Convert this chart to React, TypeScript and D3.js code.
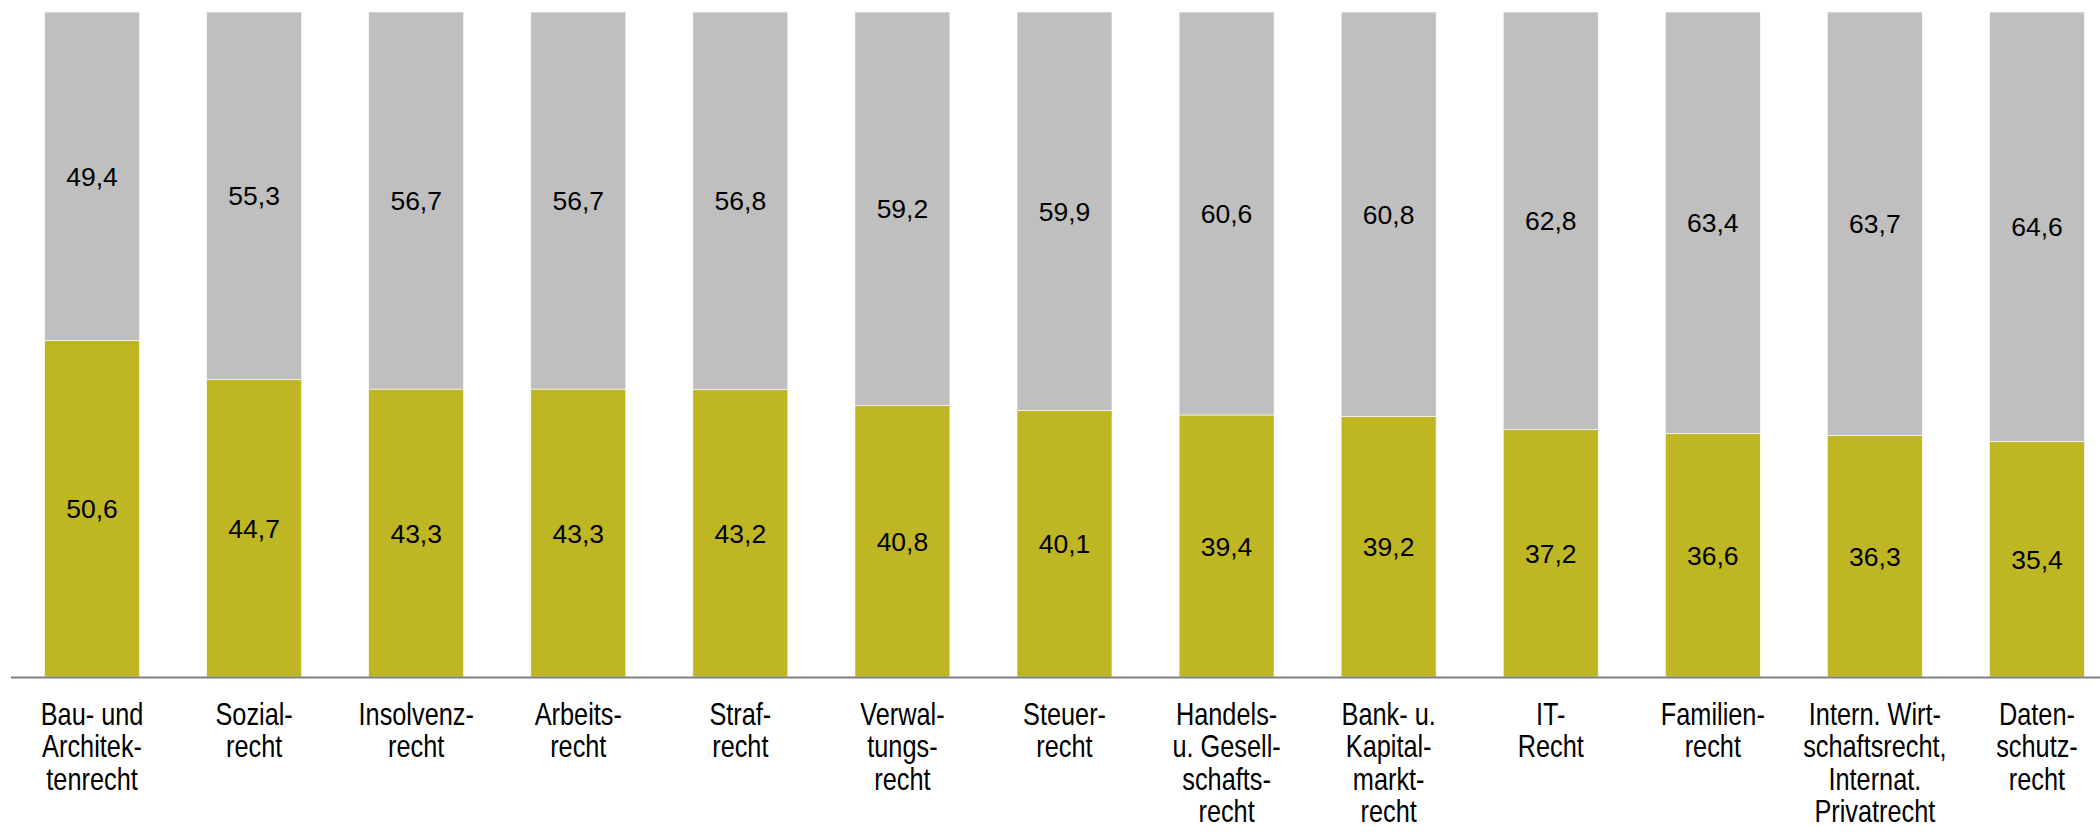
import { useEffect } from 'react';
import * as d3 from 'd3';

const categories: string[][] = [
  ['Bau- und', 'Architek-', 'tenrecht'],
  ['Sozial-', 'recht'],
  ['Insolvenz-', 'recht'],
  ['Arbeits-', 'recht'],
  ['Straf-', 'recht'],
  ['Verwal-', 'tungs-', 'recht'],
  ['Steuer-', 'recht'],
  ['Handels-', 'u. Gesell-', 'schafts-', 'recht'],
  ['Bank- u.', 'Kapital-', 'markt-', 'recht'],
  ['IT-', 'Recht'],
  ['Familien-', 'recht'],
  ['Intern. Wirt-', 'schaftsrecht,', 'Internat.', 'Privatrecht'],
  ['Daten-', 'schutz-', 'recht'],
];

const greenValues = [50.6, 44.7, 43.3, 43.3, 43.2, 40.8, 40.1, 39.4, 39.2, 37.2, 36.6, 36.3, 35.4];
const grayValues = [49.4, 55.3, 56.7, 56.7, 56.8, 59.2, 59.9, 60.6, 60.8, 62.8, 63.4, 63.7, 64.6];

const W = 2100;
const H = 835;
const GREEN = '#BEB723';
const GRAY = '#BFBFBF';

const fmt = (v: number) => v.toFixed(1).replace('.', ',');

export default function App() {
  useEffect(() => {
    document.body.style.margin = '0';
  }, []);

  const keys = categories.map((_, i) => String(i));
  const x = d3.scaleBand<string>()
    .domain(keys)
    .range([11, 2118])
    .paddingInner(0.414)
    .paddingOuter(0.207);
  const y = d3.scaleLinear().domain([0, 100]).range([677, 12]);

  const rows = keys.map((k, i) => ({ key: k, green: greenValues[i], gray: grayValues[i] }));
  const stack = d3.stack<any>().keys(['green', 'gray'])(rows);
  const colors: Record<string, string> = { green: GREEN, gray: GRAY };

  const font = '"Liberation Sans", Arial, sans-serif';

  return (
    <svg width={W} height={H} style={{ display: 'block', background: '#fff' }}>
      {stack.map((layer) => (
        <g key={layer.key}>
          {layer.map((d, i) => {
            const x0 = x(keys[i]) as number;
            const y0 = y(d[1]);
            const y1 = y(d[0]);
            return (
              <g key={i}>
                <rect
                  x={x0}
                  y={y0}
                  width={x.bandwidth()}
                  height={y1 - y0}
                  fill={colors[layer.key]}
                  stroke="#ffffff"
                  strokeWidth={0.6}
                />
                <text
                  x={x0 + x.bandwidth() / 2}
                  y={(y0 + y1) / 2}
                  dy="0.36em"
                  textAnchor="middle"
                  fontFamily={font}
                  fontSize={26.5}
                  fill="#000"
                >
                  {fmt(d[1] - d[0])}
                </text>
              </g>
            );
          })}
        </g>
      ))}
      <line x1={11} x2={W} y1={y(0) + 0.5} y2={y(0) + 0.5} stroke="#808080" strokeWidth={2} />
      {/* narrow labels: Arial scaled horizontally, like Arial Narrow */}
      {categories.map((lines, i) => (
        <g
          key={i}
          transform={`translate(${(x(keys[i]) as number) + x.bandwidth() / 2},725) scale(0.83,1)`}
        >
          <text textAnchor="middle" fontFamily={font} fontSize={30.5} fill="#000">
            {lines.map((l, j) => (
              <tspan key={j} x={0} dy={j === 0 ? 0 : 32.5}>
                {l}
              </tspan>
            ))}
          </text>
        </g>
      ))}
    </svg>
  );
}
